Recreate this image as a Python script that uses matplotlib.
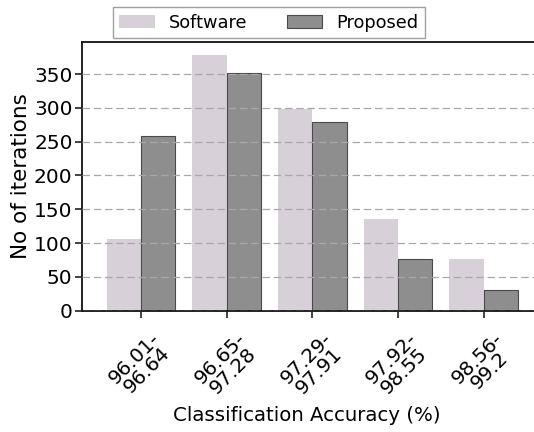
import numpy as np
import matplotlib

matplotlib.use("Agg")
import matplotlib.pyplot as plt

# Accuracy bins and iteration counts per bin
BINS = ["96.01-\n96.64", "96.65-\n97.28", "97.29-\n97.91", "97.92-\n98.55", "98.56-\n99.2"]
SOFTWARE = [106, 378, 298, 136, 77]
PROPOSED = [258, 352, 279, 77, 30]

SOFT_C, PROP_C, EDGE = "#d8d0d8", "#8e8e8e", "#4a4a4a"
W = 0.4

fig = plt.figure(figsize=(5.34, 4.32), dpi=100, facecolor="white")
# right spine sits just past the canvas edge
ax = fig.add_axes([82.3 / 534, 121.3 / 432, 458 / 534, 268.4 / 432])

x = np.arange(len(BINS))
ax.bar(x - W / 2, SOFTWARE, W, color=SOFT_C, label="Software", zorder=1)
ax.bar(x + W / 2, PROPOSED, W, color=PROP_C, edgecolor=EDGE, linewidth=0.8,
       label="Proposed", zorder=1)

ax.set_xlim(-0.685, 4.66)
ax.set_ylim(0, max(SOFTWARE) * 1.05)
ax.set_yticks(range(0, 351, 50))
ax.yaxis.grid(True, linestyle=(0, (6, 3)), color="#a8a8a8", linewidth=0.9, zorder=3)
ax.set_axisbelow(False)

ax.set_xticks(x)
ax.set_xticklabels(BINS, rotation=45, ha="center", fontsize=14.3, linespacing=0.9)
ax.tick_params(axis="y", labelsize=14.5, pad=2)
ax.tick_params(axis="x", pad=8)
ax.tick_params(length=5, width=1.2, color="#222")
for s in ax.spines.values():
    s.set_linewidth(1.3)
    s.set_color("#111")

ax.set_ylabel("No of iterations", fontsize=15.5, labelpad=2)
ax.set_xlabel("Classification Accuracy (%)", fontsize=14.2, labelpad=8)
ax.xaxis.set_label_coords((307 - 82.3) / 458, -0.355)

fig.legend(loc="center", bbox_to_anchor=(269 / 534, 1 - 22.5 / 432), ncol=2,
           fontsize=12.8, frameon=True, edgecolor="#888", fancybox=False,
           handlelength=2.0, columnspacing=2.2, borderpad=0.35)

fig.savefig("out.png", dpi=100, facecolor="white")
